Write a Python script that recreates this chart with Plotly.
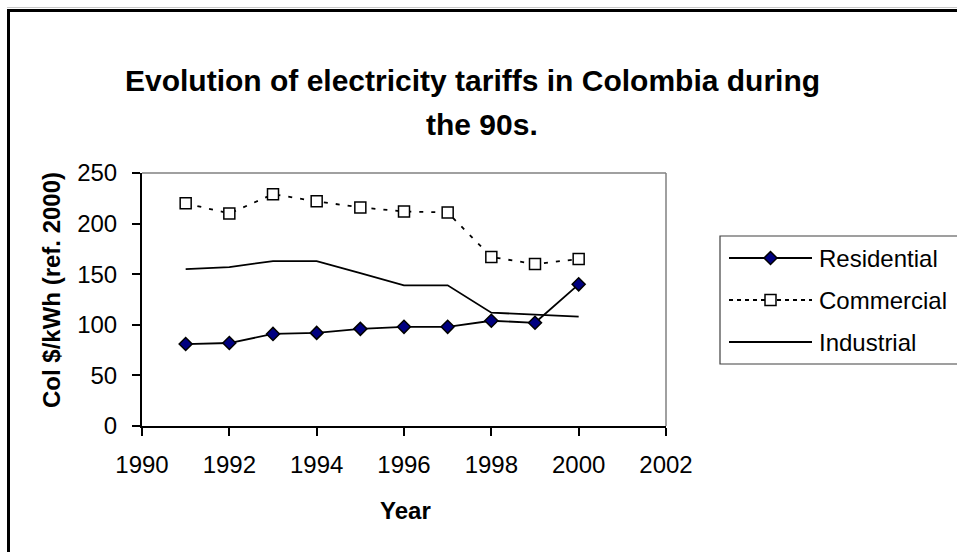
import plotly.graph_objects as go

# Tariff series, Col $/kWh at constant 2000 prices
years = [1991, 1992, 1993, 1994, 1995, 1996, 1997, 1998, 1999, 2000]
residential = [81, 82, 91, 92, 96, 98, 98, 104, 102, 140]
commercial = [220, 210, 229, 222, 216, 212, 211, 167, 160, 165]
industrial = [155, 157, 163, 163, 151, 139, 139, 112, 110, 108]

series_names = ["Residential", "Commercial", "Industrial"]
x_ticks = [1990, 1992, 1994, 1996, 1998, 2000, 2002]
y_ticks = [0, 50, 100, 150, 200, 250]

FONT = "Liberation Sans, Arial, sans-serif"
W, H = 957, 552
# plot-area edges in page pixels
L, R, T, B = 142, 666, 173, 426

RES_MARKER = dict(symbol="diamond", size=10, color="#000080",
                  line=dict(color="black", width=1.5))
COM_MARKER = dict(symbol="square", size=11, color="white",
                  line=dict(color="black", width=1.5))
LINE_W = 1.8

fig = go.Figure()
fig.add_trace(go.Scatter(
    x=years, y=residential, name=series_names[0], mode="lines+markers",
    line=dict(color="black", width=LINE_W), marker=RES_MARKER,
))
fig.add_trace(go.Scatter(
    x=years, y=commercial, name=series_names[1], mode="lines+markers",
    line=dict(color="black", width=LINE_W, dash="4px,8px"), marker=COM_MARKER,
))
fig.add_trace(go.Scatter(
    x=years, y=industrial, name=series_names[2], mode="lines",
    line=dict(color="black", width=LINE_W),
))

# Legend samples drawn on a page-pixel overlay axis (x2/y2)
leg_x0, leg_x1 = 729, 812
leg_rows = [258, 300, 342]
leg_mid = (leg_x0 + leg_x1) / 2
fig.add_trace(go.Scatter(
    x=[leg_x0, leg_x1], y=[leg_rows[0]] * 2, xaxis="x2", yaxis="y2",
    mode="lines", line=dict(color="black", width=LINE_W),
    showlegend=False, hoverinfo="skip"))
fig.add_trace(go.Scatter(
    x=[leg_mid], y=[leg_rows[0]], xaxis="x2", yaxis="y2",
    mode="markers", marker=RES_MARKER, showlegend=False, hoverinfo="skip"))
fig.add_trace(go.Scatter(
    x=[leg_x0, leg_x1], y=[leg_rows[1]] * 2, xaxis="x2", yaxis="y2",
    mode="lines", line=dict(color="black", width=LINE_W, dash="4px,4px"),
    showlegend=False, hoverinfo="skip"))
fig.add_trace(go.Scatter(
    x=[leg_mid], y=[leg_rows[1]], xaxis="x2", yaxis="y2",
    mode="markers", marker=COM_MARKER, showlegend=False, hoverinfo="skip"))
fig.add_trace(go.Scatter(
    x=[leg_x0, leg_x1], y=[leg_rows[2]] * 2, xaxis="x2", yaxis="y2",
    mode="lines", line=dict(color="black", width=LINE_W),
    showlegend=False, hoverinfo="skip"))

tick_font = dict(family=FONT, size=24, color="black")
common = dict(showgrid=False, zeroline=False, showline=True,
              linecolor="black", linewidth=2, ticks="outside", ticklen=8,
              tickcolor="black", tickwidth=1.5, tickfont=tick_font,
              automargin=False)

fig.update_layout(
    template="none",
    width=W, height=H,
    margin=dict(l=0, r=0, t=0, b=0, pad=0, autoexpand=False),
    paper_bgcolor="white", plot_bgcolor="rgba(0,0,0,0)",
    showlegend=False,
    xaxis=dict(range=[1990, 2002], tickvals=x_ticks,
               ticktext=[str(v) for v in x_ticks],
               domain=[L / W, R / W], anchor="y",
               ticklabelstandoff=8, **common),
    yaxis=dict(range=[0, 250], tickvals=y_ticks,
               ticktext=[str(v) for v in y_ticks],
               domain=[(H - B) / H, (H - T) / H], anchor="x",
               ticklabelstandoff=10, **common),
    xaxis2=dict(range=[0, W], domain=[0, 1], anchor="y2", visible=False,
                fixedrange=True, automargin=False),
    yaxis2=dict(range=[H, 0], domain=[0, 1], anchor="x2", visible=False,
                fixedrange=True, automargin=False),
)

px = dict(xref="x2", yref="y2")
shapes = [
    # plot-area frame (top and right edges)
    dict(type="line", x0=L, x1=R, y0=T, y1=T,
         line=dict(color="#808080", width=1.5), **px),
    dict(type="line", x0=R, x1=R, y0=T, y1=B,
         line=dict(color="#808080", width=1.5), **px),
    # legend box
    dict(type="rect", x0=720, x1=1000, y0=236, y1=364,
         line=dict(color="#404040", width=1.2), **px),
    # chart border
    dict(type="line", x0=7, x1=1000, y0=7.5, y1=7.5,
         line=dict(color="#c8c8c8", width=1), **px),
    dict(type="rect", x0=8.5, x1=1100, y0=10.5, y1=700,
         line=dict(color="black", width=3), **px),
]

annotations = [
    dict(text="<b>Evolution of electricity tariffs in Colombia during</b>",
         x=472, y=80, font=dict(family=FONT, size=30, color="black")),
    dict(text="<b>the 90s.</b>", x=482, y=124,
         font=dict(family=FONT, size=30, color="black")),
    dict(text="<b>Year</b>", x=405, y=510,
         font=dict(family=FONT, size=24, color="black")),
    dict(text="<b>Col $/kWh (ref. 2000)</b>", x=51, y=290, textangle=-90,
         font=dict(family=FONT, size=24, color="black")),
]
for name, row in zip(series_names, leg_rows):
    annotations.append(dict(text=name, x=817, y=row, xanchor="left",
                            font=dict(family=FONT, size=24, color="black")))

for a in annotations:
    a.setdefault("xanchor", "center")
    a.update(showarrow=False, yanchor="middle", **px)

fig.update_layout(shapes=shapes, annotations=annotations)

fig.write_html("out.html")
